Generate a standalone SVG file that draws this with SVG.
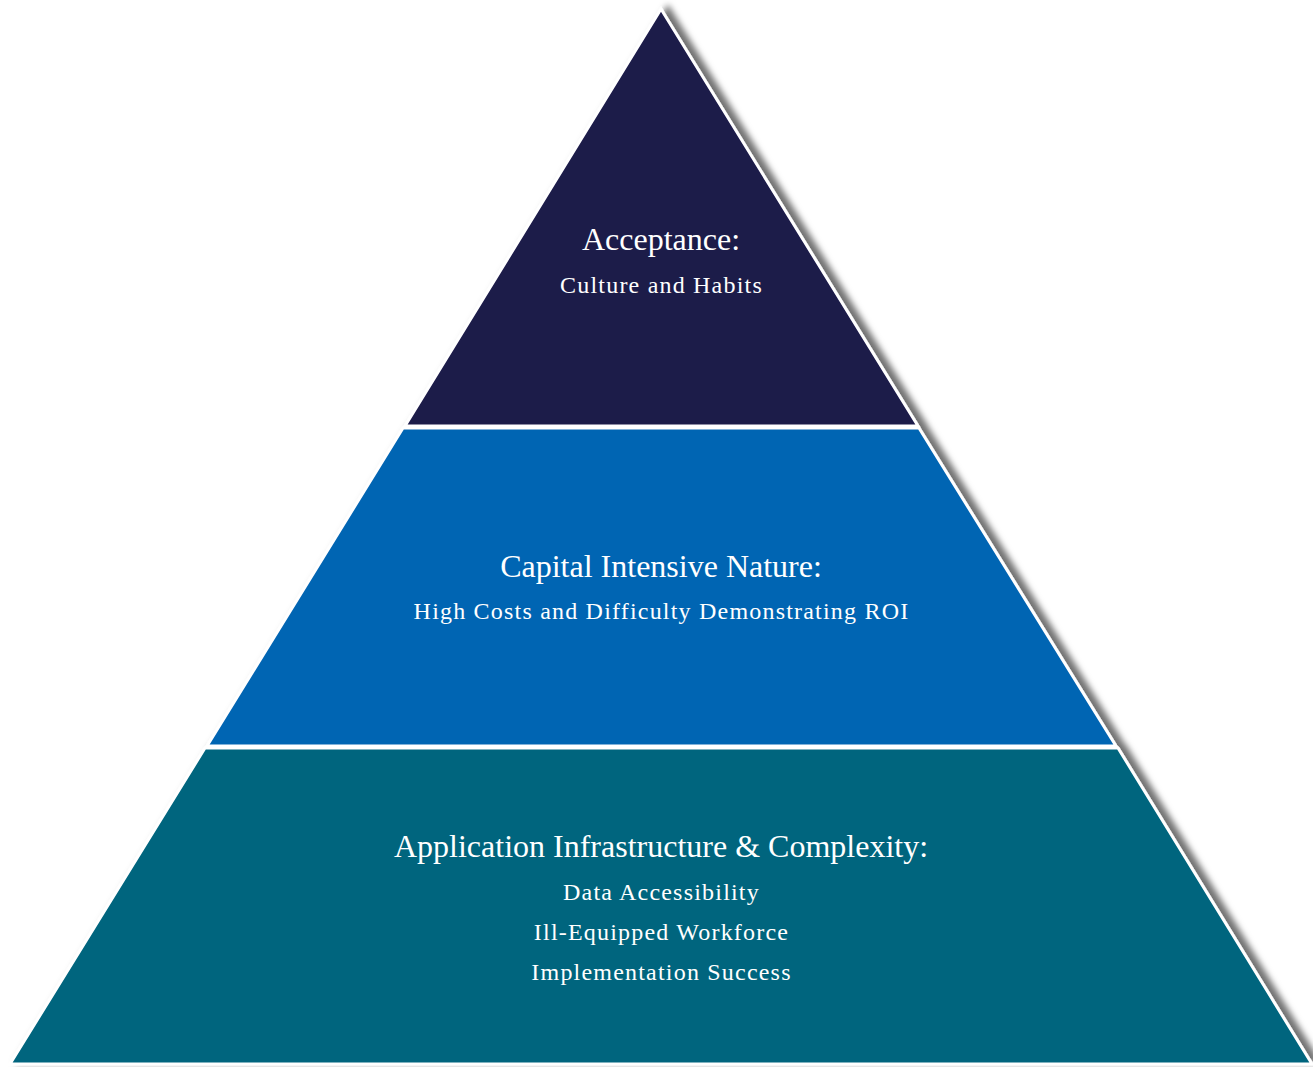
<svg xmlns="http://www.w3.org/2000/svg" width="1313" height="1067" viewBox="0 0 1313 1067">
<defs>
<filter id="sh" x="-10%" y="-10%" width="130%" height="130%">
<feDropShadow dx="7" dy="-2" stdDeviation="3" flood-color="#000" flood-opacity="0.55"/>
</filter>
</defs>
<style>
.tier{stroke:#fff;stroke-width:3;stroke-linejoin:miter}
.t{font-family:"Liberation Serif","Times New Roman",serif;fill:#fff;text-anchor:middle}
.h{font-size:32px}
.s{font-size:24px;letter-spacing:1.2px}
</style>
<rect width="1313" height="1067" fill="#fff"/>
<g filter="url(#sh)">
<g id="tier-top">
<polygon class="tier" fill="#1c1a4a" points="661,9 405,426 918,426"/>
</g>
<g id="tier-middle">
<polygon class="tier" fill="#0565b3" points="403,428 919,428 1116,746 207,746"/>
</g>
<g id="tier-bottom">
<polygon class="tier" fill="#00657e" points="205,748 1118,748 1312,1064 10,1064"/>
</g>
</g>
<g id="labels">
<text class="t h" x="661" y="250">Acceptance:</text>
<text class="t s" x="661.5" y="293">Culture and Habits</text>
<text class="t h" x="661" y="577">Capital Intensive Nature:</text>
<text class="t s" x="661.5" y="619">High Costs and Difficulty Demonstrating ROI</text>
<text class="t h" x="661" y="857">Application Infrastructure &amp; Complexity:</text>
<text class="t s" x="661.5" y="900">Data Accessibility</text>
<text class="t s" x="661.5" y="940">Ill-Equipped Workforce</text>
<text class="t s" x="661.5" y="980">Implementation Success</text>
</g>
<g id="connectors"/>
</svg>
